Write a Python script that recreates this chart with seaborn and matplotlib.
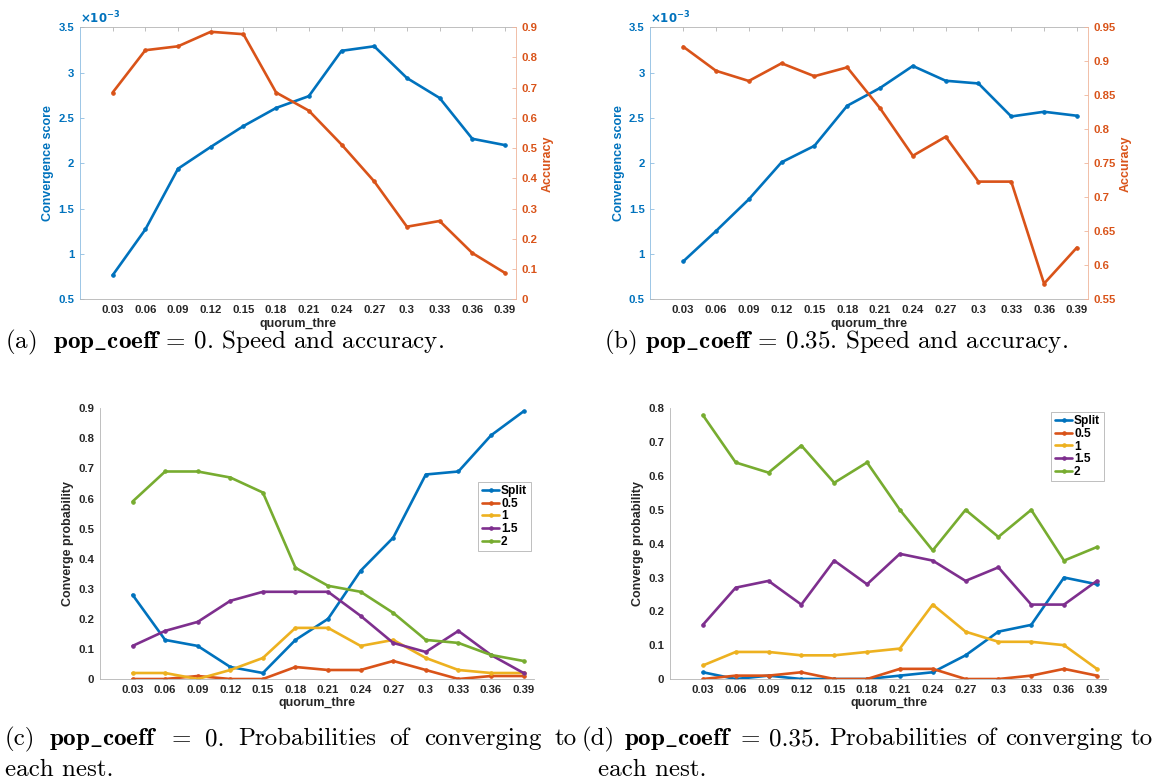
import numpy as np
import matplotlib
matplotlib.use("Agg")
import matplotlib.pyplot as plt
from matplotlib.ticker import FixedLocator, FuncFormatter
import seaborn as sns

# quorum thresholds on the x axis
quorum = [0.03, 0.06, 0.09, 0.12, 0.15, 0.18, 0.21, 0.24, 0.27, 0.30, 0.33, 0.36, 0.39]
quorum_labels = ["0.03", "0.06", "0.09", "0.12", "0.15", "0.18", "0.21",
                 "0.24", "0.27", "0.3", "0.33", "0.36", "0.39"]

# convergence score (units of 1e-3) and accuracy, pop_coeff = 0
score_pop0 = [0.765, 1.27, 1.94, 2.18, 2.41, 2.61, 2.74, 3.24, 3.29, 2.94, 2.72, 2.27, 2.20]
acc_pop0 = [0.684, 0.824, 0.837, 0.885, 0.877, 0.684, 0.624, 0.512, 0.390, 0.240, 0.259, 0.153, 0.087]

# convergence score (units of 1e-3) and accuracy, pop_coeff = 0.35
score_pop035 = [0.917, 1.252, 1.602, 2.011, 2.192, 2.634, 2.83, 3.073, 2.91, 2.88, 2.516, 2.568, 2.524]
acc_pop035 = [0.9215, 0.886, 0.871, 0.897, 0.878, 0.891, 0.831, 0.761, 0.789, 0.723, 0.723, 0.573, 0.626]

# probability of converging to each nest, pop_coeff = 0
split_pop0 = [0.28, 0.13, 0.11, 0.04, 0.02, 0.13, 0.20, 0.36, 0.47, 0.68, 0.69, 0.81, 0.89]
nest05_pop0 = [0.00, 0.00, 0.01, 0.00, 0.00, 0.04, 0.03, 0.03, 0.06, 0.03, 0.00, 0.01, 0.01]
nest1_pop0 = [0.02, 0.02, 0.00, 0.03, 0.07, 0.17, 0.17, 0.11, 0.13, 0.07, 0.03, 0.02, 0.02]
nest15_pop0 = [0.11, 0.16, 0.19, 0.26, 0.29, 0.29, 0.29, 0.21, 0.12, 0.09, 0.16, 0.08, 0.02]
nest2_pop0 = [0.59, 0.69, 0.69, 0.67, 0.62, 0.37, 0.31, 0.29, 0.22, 0.13, 0.12, 0.08, 0.06]

# probability of converging to each nest, pop_coeff = 0.35
split_pop035 = [0.02, 0.00, 0.01, 0.00, 0.00, 0.00, 0.01, 0.02, 0.07, 0.14, 0.16, 0.30, 0.28]
nest05_pop035 = [0.00, 0.01, 0.01, 0.02, 0.00, 0.00, 0.03, 0.03, 0.00, 0.00, 0.01, 0.03, 0.01]
nest1_pop035 = [0.04, 0.08, 0.08, 0.07, 0.07, 0.08, 0.09, 0.22, 0.14, 0.11, 0.11, 0.10, 0.03]
nest15_pop035 = [0.16, 0.27, 0.29, 0.22, 0.35, 0.28, 0.37, 0.35, 0.29, 0.33, 0.22, 0.22, 0.29]
nest2_pop035 = [0.78, 0.64, 0.61, 0.69, 0.58, 0.64, 0.50, 0.38, 0.50, 0.42, 0.50, 0.35, 0.39]

nest_names = ["Split", "0.5", "1", "1.5", "2"]

BLUE = "#0072BD"
ORANGE = "#D95319"
YELLOW = "#EDB120"
PURPLE = "#7E2F8E"
GREEN = "#77AC30"
nest_colors = [BLUE, ORANGE, YELLOW, PURPLE, GREEN]
INK = "#262626"
SPINE_GRAY = "#b4b4b4"
BLUE_SPINE = "#8dbde2"
ORANGE_SPINE = "#efb49a"

sns.set_style("white")
plt.rcParams["font.family"] = ["Liberation Sans", "DejaVu Sans"]
plt.rcParams["font.weight"] = "bold"
plt.rcParams["axes.labelweight"] = "bold"

TICK_FS = 8.2
LABEL_FS = 9
LW = 1.9
MS = 5

fmt_g = FuncFormatter(lambda v, p: f"{v:g}")

W, H = 1157.0, 783.0
fig = plt.figure(figsize=(W / 100, H / 100), dpi=100)


def draw_line(ax, y, color, label=None):
    sns.lineplot(x=quorum, y=y, ax=ax, color=color, linewidth=LW, marker=".",
                 markersize=MS, markeredgecolor=color, markerfacecolor=color,
                 label=label, legend=False)


def style_x(ax, top=True):
    ax.set_xlim(0, 0.4)
    ax.xaxis.set_major_locator(FixedLocator(quorum))
    ax.set_xticklabels(quorum_labels)
    ax.tick_params(axis="x", direction="in", length=3, width=0.6, color=SPINE_GRAY,
                   labelcolor=INK, labelsize=TICK_FS, pad=4, top=top)
    ax.set_xlabel("quorum_thre", fontsize=LABEL_FS, color=INK, labelpad=2)


def speed_panel(rect, score, acc, acc_lim, acc_ticks):
    ax = fig.add_axes(rect)
    draw_line(ax, score, BLUE)
    ax2 = ax.twinx()
    draw_line(ax2, acc, ORANGE)

    style_x(ax, top=True)
    ax.set_ylim(0.5, 3.5)
    ax.yaxis.set_major_locator(FixedLocator(np.arange(0.5, 3.51, 0.5)))
    ax.yaxis.set_major_formatter(fmt_g)
    ax.tick_params(axis="y", direction="in", length=3, width=0.6, color=BLUE_SPINE,
                   labelcolor=BLUE, labelsize=TICK_FS, pad=4)
    ax.set_ylabel("Convergence score", fontsize=LABEL_FS, color=BLUE, labelpad=3)

    ax2.set_ylim(*acc_lim)
    ax2.yaxis.set_major_locator(FixedLocator(acc_ticks))
    ax2.yaxis.set_major_formatter(fmt_g)
    ax2.tick_params(axis="y", direction="in", length=3, width=0.6, color=ORANGE_SPINE,
                    labelcolor=ORANGE, labelsize=TICK_FS, pad=4)
    ax2.set_ylabel("Accuracy", fontsize=LABEL_FS, color=ORANGE, labelpad=3)

    for sp in ax.spines.values():
        sp.set_linewidth(0.6)
        sp.set_color(SPINE_GRAY)
    ax.spines["left"].set_color(BLUE_SPINE)
    ax.spines["right"].set_visible(False)
    for name in ("left", "top", "bottom"):
        ax2.spines[name].set_visible(False)
    ax2.spines["right"].set_color(ORANGE_SPINE)
    ax2.spines["right"].set_linewidth(0.6)

    ax.text(0.0, 1.003, r"$\times10^{-3}$", transform=ax.transAxes, ha="left",
            va="bottom", color=BLUE, fontsize=8.5, fontweight="normal",
            math_fontfamily="dejavusans")
    return ax


def prob_panel(rect, series, ymax, legend_anchor):
    ax = fig.add_axes(rect)
    for y, c, name in zip(series, nest_colors, nest_names):
        draw_line(ax, y, c, label=name)
    style_x(ax, top=False)
    ax.set_ylim(0, ymax)
    ax.yaxis.set_major_locator(FixedLocator(np.arange(0, ymax + 0.001, 0.1)))
    ax.yaxis.set_major_formatter(fmt_g)
    ax.tick_params(axis="y", direction="in", length=3, width=0.6, color=SPINE_GRAY,
                   labelcolor=INK, labelsize=TICK_FS, pad=4)
    ax.set_ylabel("Converge probability", fontsize=LABEL_FS, color=INK, labelpad=3)
    sns.despine(ax=ax)
    for name in ("left", "bottom"):
        ax.spines[name].set_color(SPINE_GRAY)
        ax.spines[name].set_linewidth(0.6)
    leg = ax.legend(loc="upper right", bbox_to_anchor=legend_anchor, borderaxespad=0,
                    frameon=True, fancybox=False, framealpha=1, edgecolor=SPINE_GRAY,
                    prop={"weight": "bold", "size": 8.6}, handlelength=1.45,
                    handletextpad=0.15, borderpad=0.3, labelspacing=0.05)
    leg.get_frame().set_linewidth(0.6)
    for t in leg.get_texts():
        t.set_color("#000000")
    return ax


speed_panel([0.0691, 0.6178, 0.3768, 0.3474], score_pop0, acc_pop0,
            (0, 0.9), np.arange(0, 0.901, 0.1))
speed_panel([0.5621, 0.6178, 0.3781, 0.3474], score_pop035, acc_pop035,
            (0.55, 0.95), np.arange(0.55, 0.951, 0.05))

prob_panel([0.0864, 0.1328, 0.3755, 0.3457],
           [split_pop0, nest05_pop0, nest1_pop0, nest15_pop0, nest2_pop0],
           0.9, (0.9915, 0.7289))
prob_panel([0.5791, 0.1328, 0.3784, 0.3457],
           [split_pop035, nest05_pop035, nest1_pop035, nest15_pop035, nest2_pop035],
           0.8, (0.9906, 0.9874))

# sub-figure captions in a Computer Modern face
CAP_FS = 18
cap_kw = dict(fontsize=CAP_FS, fontfamily="cmr10", fontweight="normal",
              math_fontfamily="cm", color="#000000", va="center", ha="left")
BOLD_KEY = r"$\mathbf{pop\_coeff}$"


def caption(x_px, y_px, s):
    return fig.text(x_px / W, 1 - y_px / H, s, **cap_kw)


def justified(words, x0_px, x1_px, y_px):
    """Place words on one line so that they fill [x0_px, x1_px]."""
    renderer = fig.canvas.get_renderer()
    texts = [caption(x0_px, y_px, w) for w in words]
    widths = [t.get_window_extent(renderer).width for t in texts]
    gap = (x1_px - x0_px - sum(widths)) / (len(words) - 1)
    x = x0_px
    for t, w in zip(texts, widths):
        t.set_x(x / W)
        x += w + gap


caption(5, 342, r"(a)  " + BOLD_KEY + " = 0. Speed and accuracy.")
caption(604, 342, r"(b) " + BOLD_KEY + " = 0.35. Speed and accuracy.")
justified(["(c)", BOLD_KEY, "=", "0.", "Probabilities", "of", "converging", "to"],
          5, 577, 739)
caption(5, 770, "each nest.")
justified(["(d)", BOLD_KEY, "=", "0.35.", "Probabilities", "of", "converging", "to"],
          582, 1153, 739)
caption(598, 770, "each nest.")

fig.savefig("out.png", dpi=100, facecolor="white")
